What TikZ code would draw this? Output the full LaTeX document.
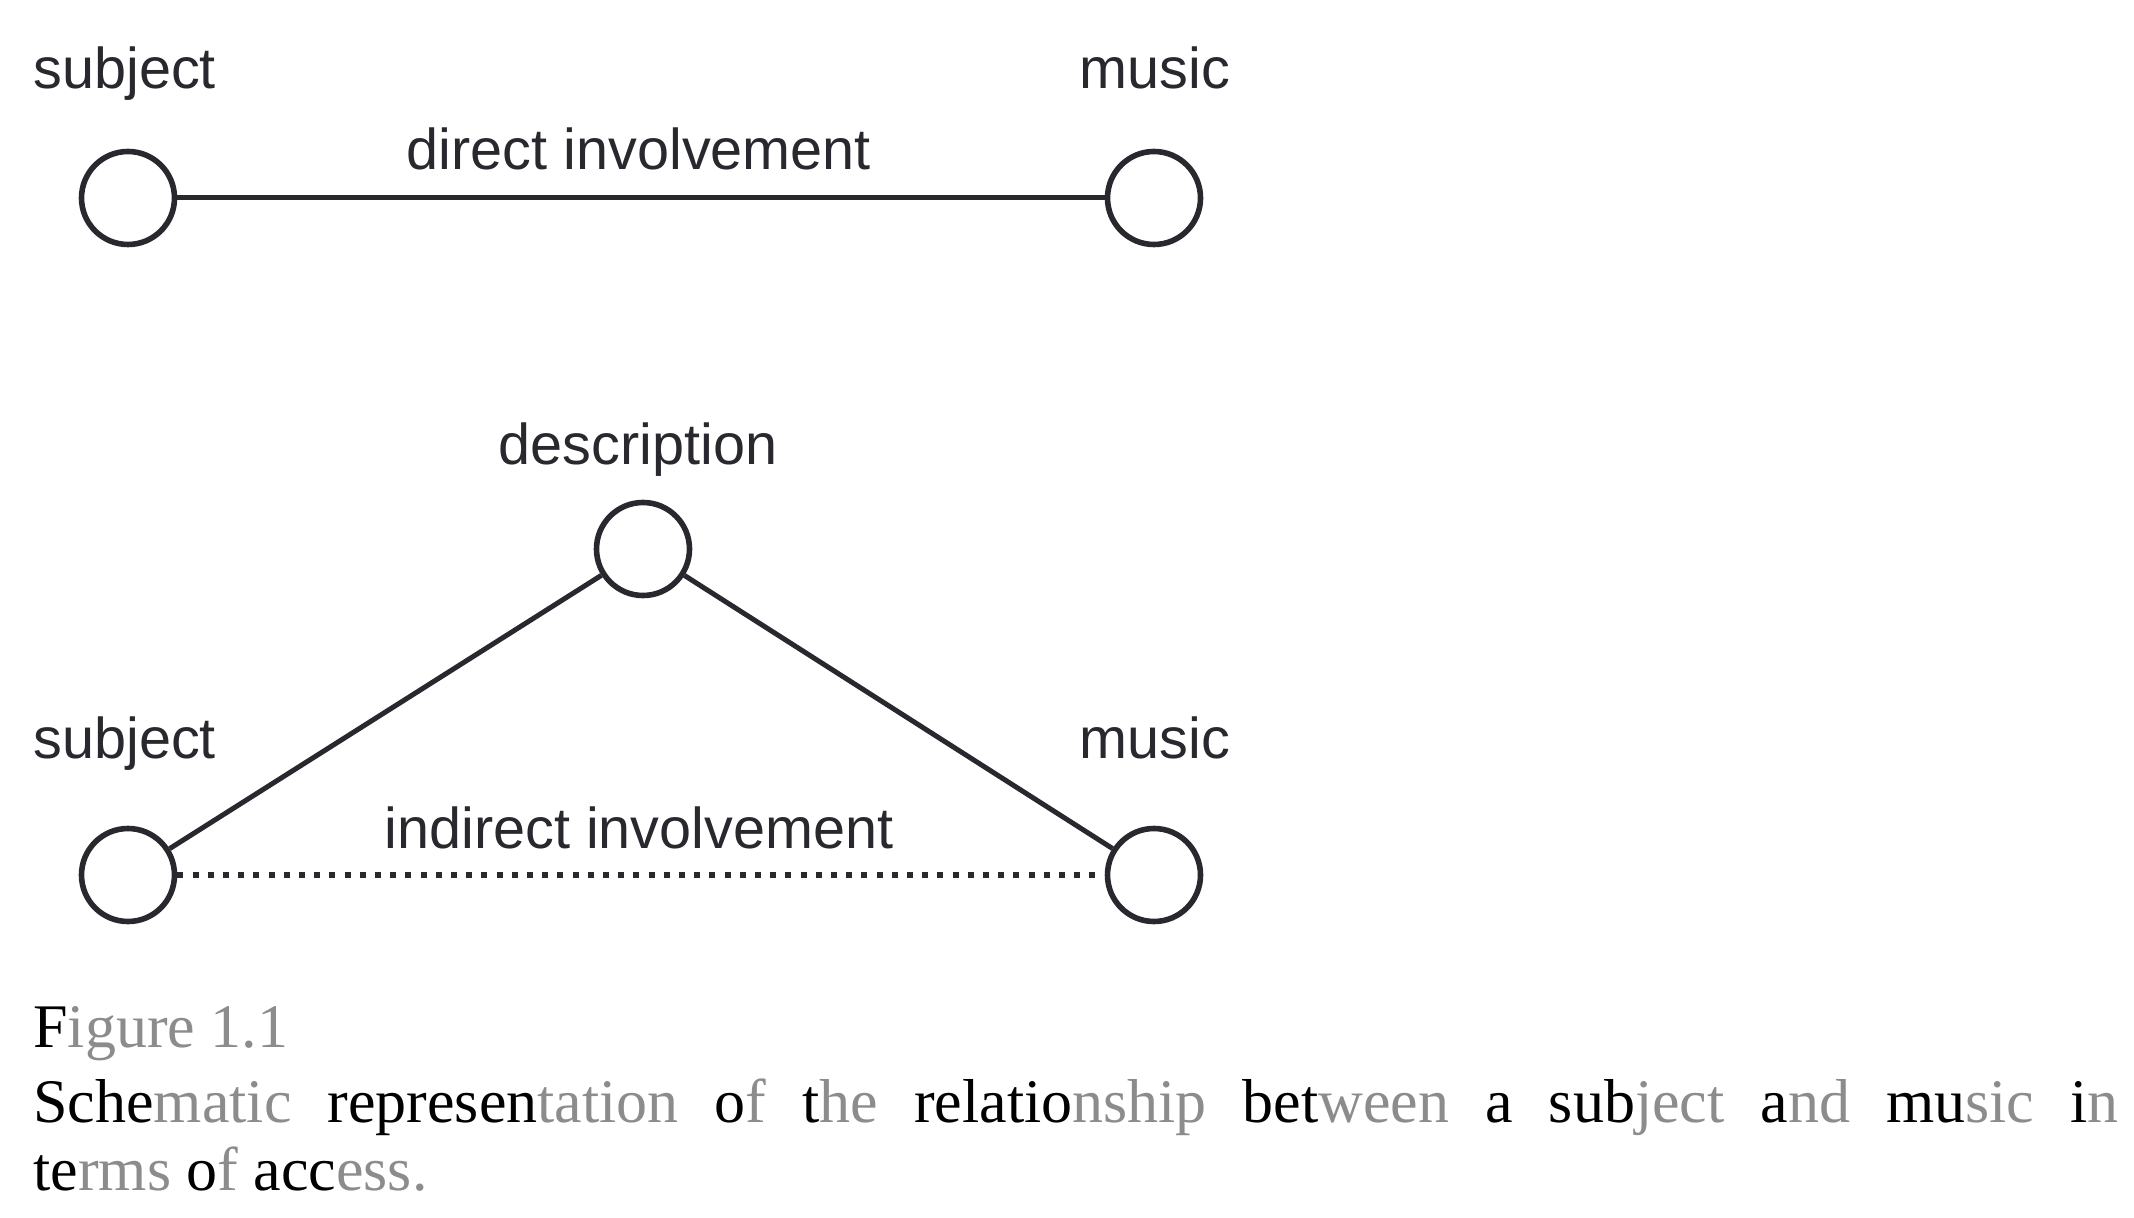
\documentclass[tikz,border=0pt]{standalone}
\usepackage{fontspec}
\setmainfont{Liberation Serif}
\setsansfont{Liberation Sans}
\definecolor{ink}{RGB}{40,40,46}
\definecolor{pale}{RGB}{140,140,140}
\newcommand{\pg}[1]{\textcolor{pale}{#1}}
\begin{document}
\begin{tikzpicture}[x=0.5pt,y=-0.5pt,
  ringnode/.style={circle,draw=ink,line width=2.8pt,minimum size=46.5pt,inner sep=0pt,fill=white},
  lbl/.style={inner sep=0pt,text=ink,font=\sffamily\fontsize{28.8}{34}\selectfont},
  conn/.style={draw=ink,line width=2.5pt},
  dotconn/.style={draw=ink,line width=2.8pt,dash pattern=on 3pt off 4.6pt},
  captxt/.style={inner sep=0pt,anchor=base west,font=\rmfamily\fontsize{31}{34}\selectfont}]
\useasboundingbox (0,0) rectangle (2134,1218);
% top diagram
\node[ringnode] (s1) at (128,198) {};
\node[ringnode] (m1) at (1154,198) {};
\node[lbl,anchor=base west] (s1l) at (33,89) {subject};
\node[lbl,anchor=base west] (m1l) at (1079,89) {music};
\node[lbl,anchor=base] (dil) at (639,170) {direct involvement};
\draw[conn] (s1) -- (m1);
% bottom diagram
\node[ringnode] (d2) at (643,549) {};
\node[ringnode] (s2) at (128,875) {};
\node[ringnode] (m2) at (1154,875) {};
\node[lbl,anchor=base] (d2l) at (638,465) {description};
\node[lbl,anchor=base west] (s2l) at (33,758) {subject};
\node[lbl,anchor=base west] (m2l) at (1079,758) {music};
\node[lbl,anchor=base] (iil) at (639,848) {indirect involvement};
\draw[conn] (s2) -- (d2);
\draw[conn] (d2) -- (m2);
\draw[dotconn] (s2) -- (m2);
% caption
\node[captxt] (c1) at (33,1047) {F\pg{igure 1.1}};
\node[captxt] (c2) at (33,1122) {\makebox[1042.5pt][s]{Sche\pg{matic} represen\pg{tation} o\pg{f} t\pg{he} relatio\pg{nship} bet\pg{ween} a sub\pg{ject} a\pg{nd} mu\pg{sic} i\pg{n}}};
\node[captxt] (c3) at (33,1190) {te\pg{rms} o\pg{f} acc\pg{ess.}};
\end{tikzpicture}
\end{document}
